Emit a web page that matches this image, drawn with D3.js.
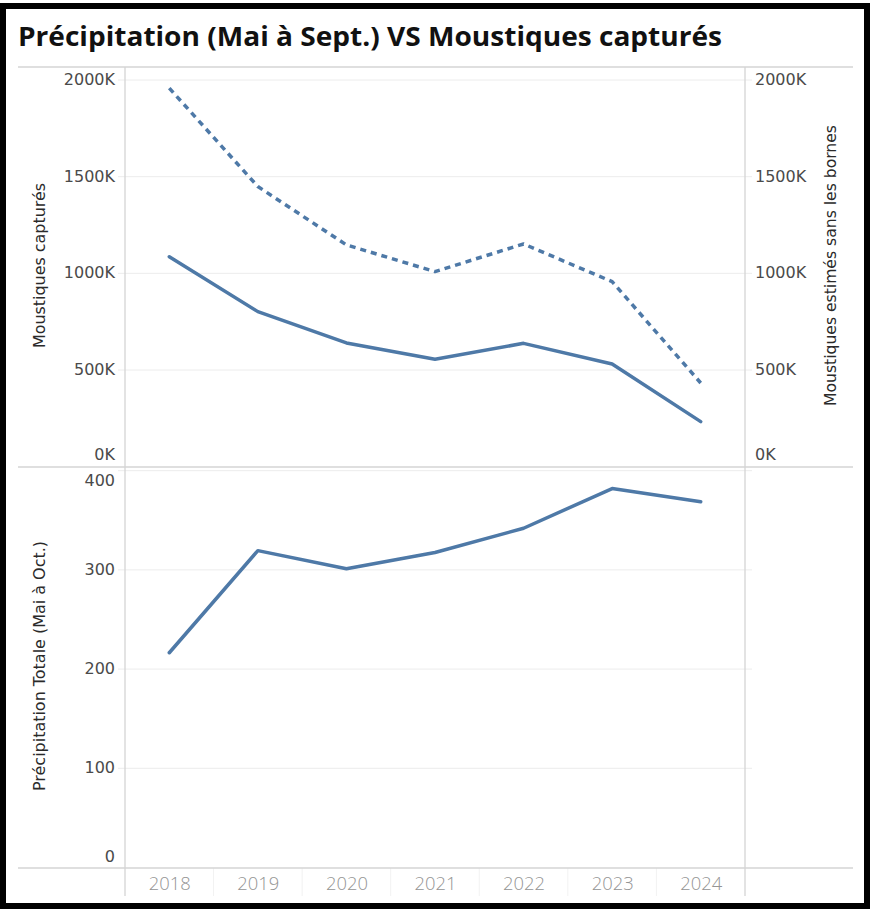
<!DOCTYPE html>
<html><head><meta charset="utf-8">
<script src="https://cdn.jsdelivr.net/npm/d3@7"></script>
<style>html,body{margin:0;padding:0;background:#fff;} svg{display:block;}</style>
</head><body>
<svg id="chart" width="871" height="909"></svg>
<script>
const years = ["2018","2019","2020","2021","2022","2023","2024"];
const moustiquesCaptures = [1086000, 802000, 640000, 556000, 638000, 531000, 233000];
const moustiquesEstimes = [1958000, 1449000, 1147000, 1009000, 1152000, 957000, 433000];
const precipitation = [216.5, 319.4, 301.2, 317.5, 342, 382, 368.7];
const topTicks = [0, 500000, 1000000, 1500000, 2000000];
const bottomTicks = [0, 100, 200, 300, 400];
const titleText = "Précipitation (Mai à Sept.) VS Moustiques capturés";
const leftTitleTop = "Moustiques capturés";
const rightTitleTop = "Moustiques estimés sans les bornes";
const leftTitleBottom = "Précipitation Totale (Mai à Oct.)";

const svg = d3.select("#chart");
const W = 871, H = 909;
const blue = "#4e79a7";
const font = "DejaVu Sans, Verdana, sans-serif";

// layout
const plotL = 125, plotR = 745, lineL = 18, lineR = 853;
const topPaneT = 67, topPaneB = 467, botPaneB = 868, axisBottom = 896;

const x = d3.scalePoint().domain(years).range([plotL, plotR]).padding(0.5);
const yTop = d3.scaleLinear().domain([0, 2000000]).range([466.7, 80]);
const yRight = d3.scaleLinear().domain([0, 2000000]).range([466.7, 80]);
const yBot = d3.scaleLinear().domain([0, 400]).range([867.5, 470.7]);

svg.append("rect").attr("width", W).attr("height", H).attr("fill", "#fff");

// title
const title = svg.append("text").attr("x", 18).attr("y", 46)
  .attr("font-family", "'Open Sans', 'Noto Sans', sans-serif").attr("font-weight", 700)
  .attr("font-size", 26).attr("fill", "#111").text(titleText);
title.attr("textLength", 704).attr("lengthAdjust", "spacingAndGlyphs");

// gridlines
const grid = svg.append("g");
grid.selectAll("line.gt").data(topTicks.filter(d => d > 0)).join("line")
  .attr("x1", 118).attr("x2", 752).attr("y1", d => yTop(d)).attr("y2", d => yTop(d))
  .attr("stroke", "#ececec").attr("stroke-width", 1);
grid.selectAll("line.gb").data(bottomTicks.filter(d => d > 0)).join("line")
  .attr("class", "gb")
  .attr("x1", 118).attr("x2", 752).attr("y1", d => yBot(d)).attr("y2", d => yBot(d))
  .attr("stroke", "#ececec").attr("stroke-width", 1);

// year separators
const bw = x.step();
grid.selectAll("line.sep").data(years.slice(1)).join("line").attr("class", "sep")
  .attr("x1", d => x(d) - bw / 2).attr("x2", d => x(d) - bw / 2)
  .attr("y1", botPaneB).attr("y2", axisBottom).attr("stroke", "#f2f2f2");

// structure lines
const struct = svg.append("g").attr("stroke", "#d4d4d4").attr("stroke-width", 1.3);
struct.append("line").attr("x1", lineL).attr("x2", lineR).attr("y1", topPaneT).attr("y2", topPaneT);
struct.append("line").attr("x1", lineL).attr("x2", lineR).attr("y1", topPaneB).attr("y2", topPaneB);
struct.append("line").attr("x1", lineL).attr("x2", lineR).attr("y1", botPaneB).attr("y2", botPaneB);
struct.append("line").attr("x1", plotL).attr("x2", plotL).attr("y1", topPaneT).attr("y2", axisBottom);
struct.append("line").attr("x1", plotR).attr("x2", plotR).attr("y1", topPaneT).attr("y2", axisBottom);

function clampLabels(g, scale, lo, hi) {
  g.selectAll(".tick").attr("transform", function(d) {
    const yy = Math.max(lo, Math.min(hi, scale(d)));
    return `translate(0,${yy})`;
  });
}
function styleAxis(g, color, size) {
  g.select(".domain").remove();
  g.selectAll(".tick line").remove();
  g.selectAll(".tick text").attr("font-family", font).attr("font-size", size).attr("fill", color);
}

// left top axis
const kFmt = d => (d / 1000) + "K";
const gL = svg.append("g").attr("transform", `translate(${115},0)`)
  .call(d3.axisLeft(yTop).tickValues(topTicks).tickFormat(kFmt).tickSize(0).tickPadding(0));
styleAxis(gL, "#4a4a4a", 16);
clampLabels(gL, yTop, topPaneT + 13, topPaneB - 12);

// right top axis
const gR = svg.append("g").attr("transform", `translate(${755},0)`)
  .call(d3.axisRight(yRight).tickValues(topTicks).tickFormat(kFmt).tickSize(0).tickPadding(0));
styleAxis(gR, "#4a4a4a", 16);
clampLabels(gR, yRight, topPaneT + 13, topPaneB - 12);

// left bottom axis
const gB = svg.append("g").attr("transform", `translate(${115},0)`)
  .call(d3.axisLeft(yBot).tickValues(bottomTicks).tickSize(0).tickPadding(0));
styleAxis(gB, "#4a4a4a", 16);
clampLabels(gB, yBot, topPaneB + 14, botPaneB - 11);

// x axis
const gX = svg.append("g").attr("transform", `translate(0,${botPaneB})`)
  .call(d3.axisBottom(x).tickSize(0).tickPadding(10));
gX.select(".domain").remove();
gX.selectAll(".tick text").attr("font-family", "'Open Sans', sans-serif").attr("font-weight", 300)
  .attr("font-size", 18).attr("fill", "#949494").attr("dy", "0.71em").attr("y", 9)
  .attr("textLength", 42).attr("lengthAdjust", "spacingAndGlyphs");

// axis titles
function vTitle(txt, cx, cy, len) {
  svg.append("text").attr("transform", `translate(${cx},${cy}) rotate(-90)`)
    .attr("text-anchor", "middle").attr("font-family", font).attr("font-size", 15)
    .attr("fill", "#2a2a2a").attr("dy", "0.35em")
    .attr("textLength", len).attr("lengthAdjust", "spacingAndGlyphs").text(txt);
}
vTitle(leftTitleTop, 40, 265.5, 165);
vTitle(rightTitleTop, 831, 265.5, 281);
vTitle(leftTitleBottom, 40, 666, 250);

// lines
const lineTop = d3.line().x((d, i) => x(years[i])).y(d => yTop(d));
const lineRight = d3.line().x((d, i) => x(years[i])).y(d => yRight(d));
const lineBot = d3.line().x((d, i) => x(years[i])).y(d => yBot(d));

svg.append("path").datum(moustiquesEstimes).attr("d", lineRight)
  .attr("fill", "none").attr("stroke", blue).attr("stroke-width", 3.5)
  .attr("stroke-dasharray", "6,5").attr("stroke-linejoin", "round");
svg.append("path").datum(moustiquesCaptures).attr("d", lineTop)
  .attr("fill", "none").attr("stroke", blue).attr("stroke-width", 3.5)
  .attr("stroke-linejoin", "round").attr("stroke-linecap", "round");
svg.append("path").datum(precipitation).attr("d", lineBot)
  .attr("fill", "none").attr("stroke", blue).attr("stroke-width", 3.5)
  .attr("stroke-linejoin", "round").attr("stroke-linecap", "round");

// outer black frame
svg.append("rect").attr("x", 3).attr("y", 6).attr("width", 864).attr("height", 900)
  .attr("fill", "none").attr("stroke", "#000").attr("stroke-width", 6);
</script>
</body></html>
